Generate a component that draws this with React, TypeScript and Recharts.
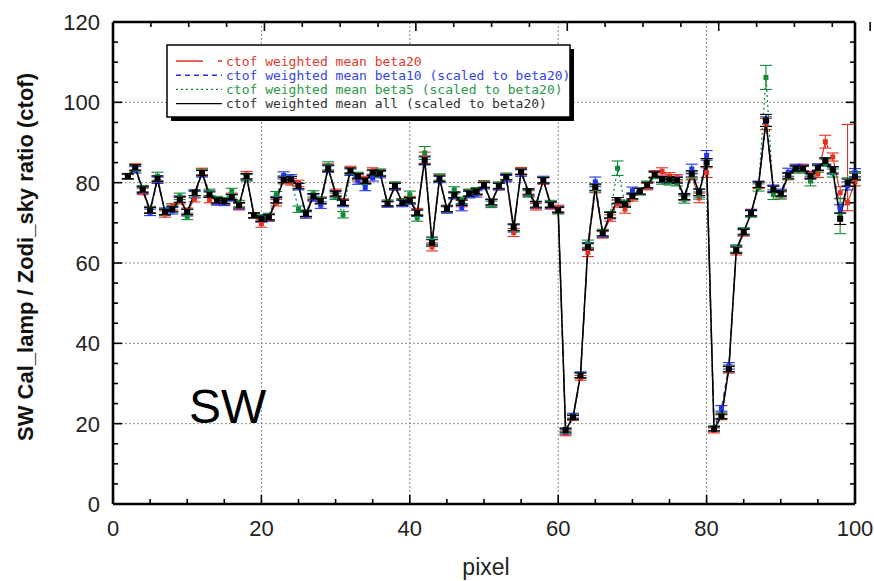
import React from 'react';
import { ComposedChart, Line, XAxis, YAxis, ErrorBar, ReferenceLine } from 'recharts';

// detector pixel index (x axis)
const pixels = [
  2, 3, 4, 5, 6, 7, 8, 9, 10, 11,
  12, 13, 14, 15, 16, 17, 18, 19, 20, 21,
  22, 23, 24, 25, 26, 27, 28, 29, 30, 31,
  32, 33, 34, 35, 36, 37, 38, 39, 40, 41,
  42, 43, 44, 45, 46, 47, 48, 49, 50, 51,
  52, 53, 54, 55, 56, 57, 58, 59, 60, 61,
  62, 63, 64, 65, 66, 67, 68, 69, 70, 71,
  72, 73, 74, 75, 76, 77, 78, 79, 80, 81,
  82, 83, 84, 85, 86, 87, 88, 89, 90, 91,
  92, 93, 94, 95, 96, 97, 98, 99, 100,
];

const beta20 = [
  81.4, 83.9, 77.8, 73.3, 80.8, 72.2, 74.0, 75.5, 72.9, 76.0,
  82.8, 75.8, 75.4, 75.2, 76.6, 74.0, 81.9, 71.7, 69.8, 71.2,
  75.0, 80.5, 80.2, 79.8, 72.0, 76.4, 75.6, 83.8, 77.6, 75.2,
  83.3, 81.2, 80.8, 82.9, 82.5, 74.6, 79.0, 75.2, 75.8, 72.8,
  86.2, 64.0, 81.2, 73.6, 76.8, 74.8, 77.5, 77.6, 79.7, 75.0,
  79.0, 81.2, 67.6, 83.0, 77.6, 74.0, 80.4, 74.2, 73.6, 17.6,
  21.4, 31.4, 62.6, 78.5, 67.0, 71.2, 74.8, 73.4, 76.2, 77.8,
  79.0, 82.2, 82.8, 81.6, 81.2, 76.3, 81.5, 76.2, 82.5, 18.3,
  21.6, 33.4, 63.0, 67.5, 72.6, 79.3, 94.6, 78.5, 77.0, 81.5,
  83.6, 83.8, 82.0, 82.2, 90.2, 86.4, 77.5, 75.0, 80.2,
];
const beta20Err: (number | [number, number])[] = [
  0.6, 0.8, 0.8, 0.8, 0.8, 0.8, 0.8, 0.8, 0.8, 0.8,
  0.8, 0.8, 0.8, 0.6, 0.8, 0.8, 0.9, 0.6, 0.9, 0.8,
  0.8, 0.8, 0.8, 0.8, 0.8, 0.8, 0.8, 0.9, 0.8, 0.8,
  0.8, 0.8, 0.8, 0.8, 0.8, 0.6, 0.8, 0.8, 0.8, 0.8,
  1.4, 1.0, 0.8, 0.8, 0.8, 0.8, 0.8, 0.8, 0.8, 0.8,
  0.8, 0.8, 1.0, 0.8, 0.8, 0.8, 0.8, 0.8, 0.8, 0.6,
  0.6, 0.6, 1.0, 1.0, 0.8, 0.8, 0.9, 1.0, 0.8, 0.8,
  0.8, 0.8, 0.9, 0.9, 0.8, 0.8, 0.8, 1.2, 1.2, 0.6,
  0.6, 0.8, 1.0, 0.8, 0.8, 0.8, 1.4, 0.8, 0.8, 0.8,
  0.8, 0.8, 0.8, 0.9, 1.6, 1.0, 1.5, [2, 19.5], 1.0,
];

const beta10 = [
  81.6, 83.2, 78.1, 72.6, 80.6, 72.9, 73.0, 75.9, 72.5, 77.0,
  82.2, 77.2, 75.2, 75.0, 76.2, 74.2, 81.4, 71.8, 71.0, 71.3,
  75.8, 81.8, 81.2, 79.0, 72.0, 76.2, 74.4, 83.4, 77.0, 74.8,
  82.6, 80.4, 78.8, 81.2, 82.0, 74.6, 79.0, 74.8, 75.4, 72.4,
  85.4, 65.4, 80.8, 73.2, 76.8, 73.8, 77.0, 77.2, 79.2, 75.0,
  79.0, 81.0, 68.6, 82.4, 77.4, 74.4, 80.8, 74.4, 73.3, 18.0,
  22.0, 32.2, 64.2, 80.2, 67.2, 71.8, 75.5, 74.8, 78.0, 77.8,
  79.3, 82.0, 80.8, 80.6, 80.8, 76.5, 83.4, 77.4, 86.8, 18.8,
  23.8, 34.4, 63.5, 67.8, 72.5, 79.6, 95.2, 78.6, 77.6, 82.6,
  83.8, 83.6, 81.8, 83.9, 85.2, 83.0, 73.5, 79.2, 82.5,
];
const beta10Err = [
  0.7, 0.8, 0.8, 0.8, 0.8, 0.8, 0.8, 0.8, 0.8, 0.8,
  0.8, 0.8, 0.8, 0.7, 0.8, 0.8, 0.8, 0.7, 0.8, 0.8,
  0.8, 0.9, 0.8, 0.8, 0.8, 0.8, 0.8, 0.8, 0.8, 0.8,
  0.8, 0.8, 0.8, 0.8, 0.8, 0.7, 0.8, 0.8, 0.8, 0.8,
  1.0, 0.9, 0.8, 0.8, 0.8, 0.8, 0.8, 0.8, 0.8, 0.8,
  0.8, 0.8, 0.9, 0.8, 0.8, 0.8, 0.8, 0.8, 0.8, 0.6,
  0.6, 0.7, 0.9, 1.2, 0.8, 0.8, 0.8, 0.8, 0.9, 0.8,
  0.8, 0.8, 0.8, 0.8, 0.8, 0.8, 1.2, 1.0, 1.2, 0.6,
  0.7, 0.8, 0.9, 0.8, 0.8, 0.8, 1.2, 0.8, 0.8, 1.0,
  0.8, 0.8, 0.8, 0.8, 0.9, 0.9, 1.0, 1.0, 1.0,
];

const beta5 = [
  81.5, 83.5, 78.5, 73.2, 81.6, 72.6, 73.6, 76.6, 71.6, 77.2,
  82.6, 77.6, 75.8, 75.6, 77.8, 74.8, 81.2, 71.8, 71.2, 71.6,
  77.0, 80.9, 80.8, 73.4, 72.4, 77.2, 75.6, 84.2, 76.6, 72.0,
  82.8, 81.8, 80.4, 82.2, 82.6, 75.0, 79.4, 75.2, 77.0, 71.2,
  87.4, 65.6, 81.4, 73.4, 78.2, 75.6, 77.6, 78.0, 79.6, 74.6,
  79.4, 81.6, 68.8, 82.8, 77.2, 74.6, 80.6, 74.8, 73.0, 18.2,
  21.8, 32.0, 64.8, 78.6, 67.6, 72.0, 83.6, 74.8, 76.6, 77.8,
  79.6, 81.8, 80.4, 80.2, 80.0, 75.8, 81.8, 76.8, 85.0, 18.8,
  22.0, 33.8, 63.6, 68.0, 72.2, 78.8, 106.2, 77.0, 76.8, 81.6,
  83.2, 83.2, 80.4, 83.4, 85.0, 82.4, 71.7, 80.2, 81.8,
];
const beta5Err = [
  0.7, 0.8, 0.8, 0.8, 1.0, 0.8, 0.8, 0.8, 0.8, 0.8,
  0.8, 0.8, 0.8, 0.7, 0.8, 0.8, 0.8, 0.7, 0.8, 0.8,
  0.8, 0.8, 0.8, 0.8, 0.8, 0.8, 0.8, 1.0, 0.8, 0.8,
  0.8, 0.8, 0.8, 0.8, 0.8, 0.7, 0.8, 0.8, 0.9, 0.8,
  1.6, 0.9, 0.8, 0.8, 0.8, 0.8, 0.8, 0.8, 0.8, 0.8,
  0.8, 0.8, 0.9, 0.8, 0.8, 0.8, 0.8, 0.8, 0.8, 0.6,
  0.6, 0.7, 0.9, 0.9, 0.8, 0.8, 1.8, 0.8, 0.8, 0.8,
  0.8, 0.8, 0.8, 0.8, 0.8, 0.9, 0.9, 0.9, 1.0, 0.6,
  0.7, 0.8, 0.9, 0.8, 0.8, 0.9, 3.0, 1.2, 0.9, 0.8,
  0.8, 0.8, 1.2, 0.8, 0.9, 1.0, 4.4, 1.0, 1.0,
];

const allData = [
  81.6, 83.8, 78.3, 73.1, 81.0, 72.7, 73.4, 75.8, 72.7, 77.5,
  82.4, 77.0, 75.6, 75.4, 76.4, 74.4, 81.6, 71.9, 71.0, 71.4,
  75.6, 80.7, 80.8, 79.2, 72.3, 76.6, 75.4, 83.6, 77.3, 75.0,
  83.0, 81.6, 80.5, 82.5, 82.3, 74.8, 79.2, 75.0, 75.6, 72.5,
  85.6, 65.0, 81.0, 73.5, 77.0, 75.0, 77.3, 77.8, 79.4, 75.2,
  79.2, 81.4, 68.9, 82.7, 77.8, 74.6, 80.6, 74.5, 73.2, 18.4,
  21.6, 32.0, 64.0, 78.9, 67.4, 71.9, 75.6, 74.6, 76.7, 77.9,
  79.4, 82.0, 80.8, 80.8, 80.6, 76.5, 82.2, 77.6, 85.0, 18.7,
  21.8, 33.6, 63.2, 67.7, 72.4, 79.5, 95.5, 78.3, 77.3, 81.8,
  83.5, 83.5, 81.6, 83.7, 85.4, 83.2, 71.0, 80.0, 81.5,
];
const allErr = [
  0.6, 0.7, 0.7, 0.7, 0.7, 0.7, 0.7, 0.7, 0.7, 0.7,
  0.7, 0.7, 0.7, 0.6, 0.7, 0.7, 0.7, 0.6, 0.7, 0.7,
  0.7, 0.7, 0.7, 0.7, 0.7, 0.7, 0.7, 0.8, 0.7, 0.7,
  0.7, 0.7, 0.7, 0.7, 0.7, 0.6, 0.7, 0.7, 0.7, 0.7,
  1.0, 0.8, 0.7, 0.7, 0.7, 0.7, 0.7, 0.7, 0.7, 0.7,
  0.7, 0.7, 0.8, 0.7, 0.7, 0.7, 0.7, 0.7, 0.7, 0.5,
  0.5, 0.6, 0.8, 0.8, 0.7, 0.7, 0.7, 0.7, 0.7, 0.7,
  0.7, 0.7, 0.7, 0.7, 0.7, 0.7, 0.8, 0.8, 1.0, 0.5,
  0.6, 0.7, 0.8, 0.7, 0.7, 0.7, 1.5, 0.8, 0.7, 0.7,
  0.7, 0.7, 0.7, 0.7, 0.8, 0.8, 1.4, 0.9, 0.9,
];

const xTicks = [0, 5, 10, 15, 20, 25, 30, 35, 40, 45, 50, 55, 60, 65, 70, 75, 80, 85, 90, 95, 100];
const yTicks = [0, 5, 10, 15, 20, 25, 30, 35, 40, 45, 50, 55, 60, 65, 70, 75, 80, 85, 90, 95, 100, 105, 110, 115, 120];
const gridX = [20, 40, 60, 80];
const gridY = [20, 40, 60, 80, 100];

const rows = pixels.map((p, i) => ({
  x: p,
  red: beta20[i], redErr: beta20Err[i],
  blue: beta10[i], blueErr: beta10Err[i],
  green: beta5[i], greenErr: beta5Err[i],
  black: allData[i], blackErr: allErr[i],
}));

const series = [
  { key: 'red', label: 'ctof weighted mean beta20', color: '#e3301f', text: '#e03a2a', dash: '26 14', legendDash: '27 15', width: 1.2, box: 5 },
  { key: 'blue', label: 'ctof weighted mean beta10 (scaled to beta20)', color: '#2233e6', text: '#3344e0', dash: '5 4', legendDash: '5 4', width: 1.2, box: 5 },
  { key: 'green', label: 'ctof weighted mean beta5 (scaled to beta20)', color: '#148a36', text: '#2a9a48', dash: '2 3', legendDash: '2 3', width: 1.3, box: 5 },
  { key: 'black', label: 'ctof weighted mean all (scaled to beta20)', color: '#000000', text: '#333333', dash: undefined, legendDash: undefined, width: 1.5, box: 6 },
];

const W = 874;
const H = 581;
const FONT = '"Liberation Sans", Arial, sans-serif';
const MONO = '"DejaVu Sans Mono", "Liberation Mono", monospace';

const tickLen = (v: number) => (v % 20 === 0 ? 9 : 5);

const LeftTick = ({ x, y, payload }: any) => (
  <g>
    <line x1={x} x2={x + tickLen(payload.value)} y1={y} y2={y} stroke="#000" strokeWidth={1.6} />
    {payload.value % 20 === 0 && (
      <text x={x - 13} y={y} dy="0.36em" textAnchor="end" fontSize={22} fontFamily={FONT} fill="#222">
        {payload.value}
      </text>
    )}
  </g>
);

const RightTick = ({ x, y, payload }: any) => (
  <line x1={x} x2={x - tickLen(payload.value)} y1={y} y2={y} stroke="#000" strokeWidth={1.6} />
);

const BottomTick = ({ x, y, payload }: any) => (
  <g>
    <line x1={x} x2={x} y1={y} y2={y - tickLen(payload.value)} stroke="#000" strokeWidth={1.6} />
    {payload.value % 20 === 0 && (
      <text x={x} y={y + 32} textAnchor="middle" fontSize={22} fontFamily={FONT} fill="#222">
        {payload.value}
      </text>
    )}
  </g>
);

const TopTick = ({ x, y, payload }: any) => (
  <line x1={x} x2={x} y1={y} y2={y + tickLen(payload.value)} stroke="#000" strokeWidth={1.6} />
);

const squareDot = (color: string, size: number, name: string) => (p: any) => (
  <rect key={`${name}-${p.index}`} x={p.cx - size / 2} y={p.cy - size / 2} width={size} height={size} fill={color} />
);

const frame = { stroke: '#000', strokeWidth: 2.6 };

const LegendBox = () => (
  <svg width={412} height={80} style={{ position: 'absolute', left: 166, top: 44 }}>
    <rect x={5} y={5} width={403} height={72} fill="#000" />
    <rect x={1} y={1} width={403} height={72} fill="#fff" stroke="#000" strokeWidth={1.5} />
    {series.map((s, i) => {
      const cy = 17 + i * 14.2;
      return (
        <g key={s.key}>
          <line x1={10} x2={56} y1={cy} y2={cy} stroke={s.color} strokeWidth={1.4} strokeDasharray={s.legendDash} />
          <text x={60} y={cy} dy="0.35em" fontSize={13} fontFamily={MONO} fill={s.text}>
            {s.label}
          </text>
        </g>
      );
    })}
  </svg>
);

export default function App() {
  return (
    <div style={{ position: 'absolute', left: 0, top: 0, width: W, height: H, background: '#fff' }}>
      <ComposedChart width={W} height={H} data={rows} margin={{ top: 0, right: 0, bottom: 0, left: 0 }}>
        <XAxis
          xAxisId="b" dataKey="x" type="number" domain={[0, 100]} ticks={xTicks} interval={0}
          height={77} tickSize={0} tickMargin={0} tickLine={false} axisLine={frame} tick={BottomTick}
        />
        <XAxis
          xAxisId="t" orientation="top" type="number" domain={[0, 100]} ticks={xTicks} interval={0}
          allowDataOverflow height={22} tickSize={0} tickMargin={0} tickLine={false} axisLine={frame} tick={TopTick}
        />
        <YAxis
          yAxisId="l" type="number" domain={[0, 120]} ticks={yTicks} interval={0}
          width={113} tickSize={0} tickMargin={0} tickLine={false} axisLine={frame} tick={LeftTick}
        />
        <YAxis
          yAxisId="r" orientation="right" type="number" domain={[0, 120]} ticks={yTicks} interval={0}
          allowDataOverflow width={19} tickSize={0} tickMargin={0} tickLine={false} axisLine={frame} tick={RightTick}
        />
        {gridY.map((v) => (
          <ReferenceLine key={`gy${v}`} y={v} xAxisId="b" yAxisId="l" stroke="#8a8a8a" strokeWidth={1} strokeDasharray="2 2" />
        ))}
        {gridX.map((v) => (
          <ReferenceLine key={`gx${v}`} x={v} xAxisId="b" yAxisId="l" stroke="#8a8a8a" strokeWidth={1} strokeDasharray="2 2" />
        ))}
        {series.map((s) => (
          <Line
            key={s.key}
            xAxisId="b"
            yAxisId="l"
            type="linear"
            dataKey={s.key}
            stroke={s.color}
            strokeWidth={s.width}
            strokeDasharray={s.dash}
            dot={squareDot(s.color, s.box, s.key)}
            activeDot={false}
            isAnimationActive={false}
          >
            <ErrorBar dataKey={`${s.key}Err`} width={6} stroke={s.color} strokeWidth={1.1} direction="y" isAnimationActive={false} />
          </Line>
        ))}
      </ComposedChart>
      <svg width={W} height={H} style={{ position: 'absolute', left: 0, top: 0, pointerEvents: 'none' }}>
        <text
          x={33} y={257} textAnchor="middle" transform="rotate(-90, 33, 257)"
          fontSize={22} fontWeight="bold" fontFamily={FONT} fill="#111"
        >
          SW Cal_lamp / Zodi_sky ratio (ctof)
        </text>
        <text x={486} y={575} textAnchor="middle" fontSize={23} fontFamily={FONT} fill="#222">
          pixel
        </text>
        <text x={189} y={423} fontSize={48} fontFamily={FONT} fill="#000">
          SW
        </text>
      </svg>
      <LegendBox />
    </div>
  );
}
